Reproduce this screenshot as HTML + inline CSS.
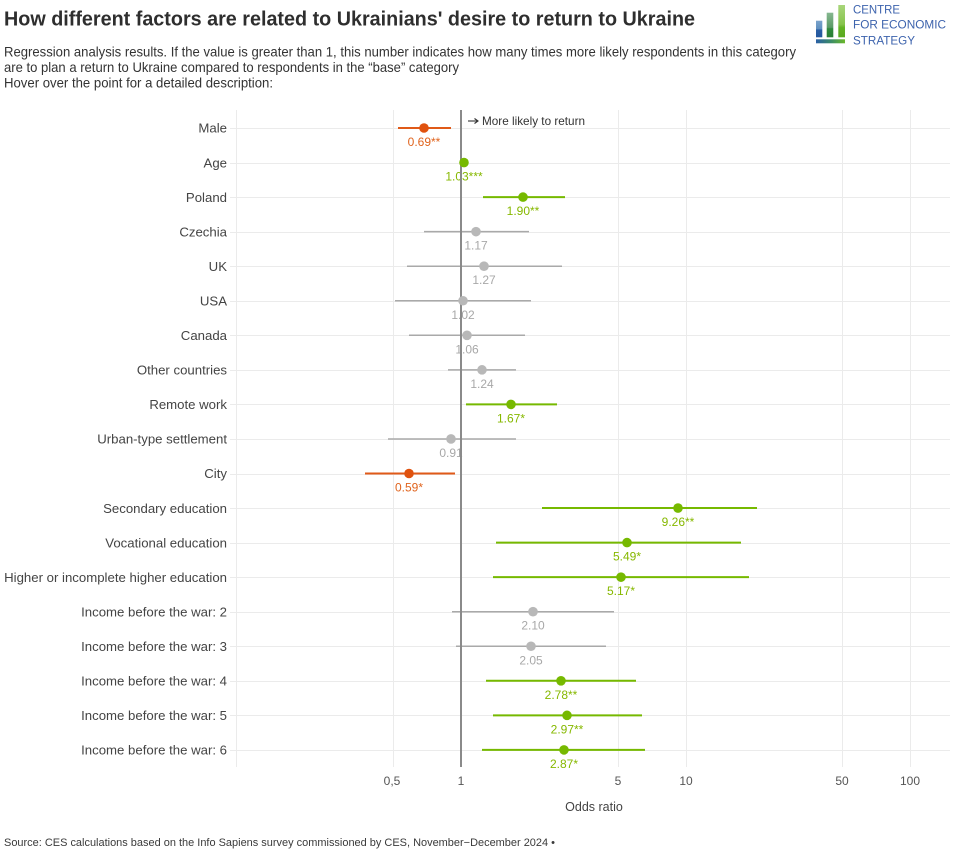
<!DOCTYPE html>
<html><head><meta charset="utf-8"><style>
html,body{margin:0;padding:0;background:#fff;}
svg{display:block;font-family:"Liberation Sans",Arial,sans-serif;}
</style></head><body>
<svg width="965" height="855" viewBox="0 0 965 855" xmlns="http://www.w3.org/2000/svg">
<defs>
<linearGradient id="b1" x1="0" y1="0" x2="0" y2="1"><stop offset="0" stop-color="#7aa3cb"/><stop offset="0.5" stop-color="#5f8fbf"/><stop offset="0.55" stop-color="#2a5fa5"/><stop offset="1" stop-color="#24589e"/></linearGradient>
<linearGradient id="b2" x1="0" y1="0" x2="0" y2="1"><stop offset="0" stop-color="#86b890"/><stop offset="0.6" stop-color="#5a9a66"/><stop offset="0.65" stop-color="#2f8a3c"/><stop offset="1" stop-color="#2a7f36"/></linearGradient>
<linearGradient id="b3" x1="0" y1="0" x2="0" y2="1"><stop offset="0" stop-color="#a8d67a"/><stop offset="0.6" stop-color="#86c34c"/><stop offset="0.7" stop-color="#62b224"/><stop offset="1" stop-color="#5aa820"/></linearGradient>
<linearGradient id="ul" x1="0" y1="0" x2="1" y2="0"><stop offset="0" stop-color="#2a5fa5"/><stop offset="0.5" stop-color="#3a8a6a"/><stop offset="1" stop-color="#6ab82a"/></linearGradient>
</defs>

<!-- Title -->
<text x="4" y="25.5" font-size="20" font-weight="bold" fill="#2e2e2e" textLength="691" lengthAdjust="spacingAndGlyphs">How different factors are related to Ukrainians' desire to return to Ukraine</text>
<text x="4" y="56.5" font-size="14" fill="#333" textLength="792" lengthAdjust="spacingAndGlyphs">Regression analysis results. If the value is greater than 1, this number indicates how many times more likely respondents in this category</text>
<text x="4" y="72" font-size="14" fill="#333" textLength="455" lengthAdjust="spacingAndGlyphs">are to plan a return to Ukraine compared to respondents in the “base” category</text>
<text x="4" y="87.5" font-size="14" fill="#333" textLength="269" lengthAdjust="spacingAndGlyphs">Hover over the point for a detailed description:</text>

<!-- Logo -->
<rect x="816" y="20.7" width="6.3" height="16.6" fill="url(#b1)"/>
<rect x="826.7" y="12.7" width="6.6" height="24.6" fill="url(#b2)"/>
<rect x="838.3" y="5" width="6.7" height="32.3" fill="url(#b3)"/>
<rect x="816" y="39.3" width="29" height="4" fill="url(#ul)"/>
<text x="853" y="13.3" font-size="11.5" fill="#3d63ad" textLength="47" lengthAdjust="spacingAndGlyphs">CENTRE</text>
<text x="853" y="28.7" font-size="11.5" fill="#3d63ad" textLength="93" lengthAdjust="spacingAndGlyphs">FOR ECONOMIC</text>
<text x="853" y="44.3" font-size="11.5" fill="#3d63ad" textLength="62" lengthAdjust="spacingAndGlyphs">STRATEGY</text>

<!-- Grid -->
<g stroke="#ebebeb" stroke-width="1">
<line x1="236.5" y1="110" x2="236.5" y2="767"/>
<line x1="393.5" y1="110" x2="393.5" y2="767"/>
<line x1="618.5" y1="110" x2="618.5" y2="767"/>
<line x1="686.5" y1="110" x2="686.5" y2="767"/>
<line x1="842.5" y1="110" x2="842.5" y2="767"/>
<line x1="910.5" y1="110" x2="910.5" y2="767"/>
</g>
<g stroke="#ebebeb" stroke-width="1" id="hg"></g>
<g id="plot"></g>

<!-- axis ticks -->
<g font-size="12" fill="#555" text-anchor="middle">
<text x="392" y="785">0,5</text>
<text x="461" y="785">1</text>
<text x="618" y="785">5</text>
<text x="686" y="785">10</text>
<text x="842" y="785">50</text>
<text x="910" y="785">100</text>
</g>
<text x="594" y="811" font-size="12.5" fill="#444" text-anchor="middle">Odds ratio</text>

<text x="4" y="846" font-size="11" fill="#3a3a3a" textLength="551" lengthAdjust="spacingAndGlyphs">Source: CES calculations based on the Info Sapiens survey commissioned by CES, November−December 2024 •</text>
</svg>
<script>
(function(){
var NS="http://www.w3.org/2000/svg";
var rows=[
["Male",424,398,451,"o","0.69**"],
["Age",464,461,467,"g","1.03***"],
["Poland",523,483,565,"g","1.90**"],
["Czechia",476,424,529,"n","1.17"],
["UK",484,407,562,"n","1.27"],
["USA",463,395,531,"n","1.02"],
["Canada",467,409,525,"n","1.06"],
["Other countries",482,448,516,"n","1.24"],
["Remote work",511,466,557,"g","1.67*"],
["Urban-type settlement",451,388,516,"n","0.91"],
["City",409,365,455,"o","0.59*"],
["Secondary education",678,542,757,"g","9.26**"],
["Vocational education",627,496,741,"g","5.49*"],
["Higher or incomplete higher education",621,493,749,"g","5.17*"],
["Income before the war: 2",533,452,614,"n","2.10"],
["Income before the war: 3",531,456,606,"n","2.05"],
["Income before the war: 4",561,486,636,"g","2.78**"],
["Income before the war: 5",567,493,642,"g","2.97**"],
["Income before the war: 6",564,482,645,"g","2.87*"]
];
var col={o:{l:"#e05a18",d:"#e0520e",t:"#e0641e",w:2},g:{l:"#76b900",d:"#76b900",t:"#86b800",w:2},n:{l:"#a9a9a9",d:"#b8b8b8",t:"#a8a8a8",w:1.5}};
var plot=document.getElementById("plot");
function el(t,a,p,txt){var e=document.createElementNS(NS,t);for(var k in a)e.setAttribute(k,a[k]);if(txt!==undefined)e.textContent=txt;(p||plot).appendChild(e);return e;}
var hg=document.getElementById("hg");
var lines=el("g",{}),labs=el("g",{}),vl=el("g",{}),dots=el("g",{});
rows.forEach(function(r,i){
 var y=128+34.55*i;
 var yy=Math.round(y)+0.5;
 el("line",{x1:230,y1:yy,x2:950,y2:yy,stroke:"#ebebeb","stroke-width":1},hg);
 el("text",{x:227,y:y+4.7,"font-size":13.2,fill:"#444","text-anchor":"end"},plot,r[0]);
 var c=col[r[4]];
 if(r[3]-r[2]>8) el("line",{x1:r[2],y1:y,x2:r[3],y2:y,stroke:c.l,"stroke-width":c.w},lines);
 el("text",{x:r[1],y:y+18,"font-size":12,fill:c.t,"text-anchor":"middle"},labs,r[5]);
 el("circle",{cx:r[1],cy:y,r:4.8,fill:c.d},dots);
});
el("line",{x1:461,y1:110,x2:461,y2:767,stroke:"#8a8a8a","stroke-width":2},vl);
el("line",{x1:468,y1:121,x2:477,y2:121,stroke:"#333","stroke-width":1.1},vl);
el("path",{d:"M474.5,118.5 L478,121 L474.5,123.5",fill:"none",stroke:"#333","stroke-width":1.1},vl);
el("text",{x:482,y:125,"font-size":12,fill:"#333",textLength:103,lengthAdjust:"spacingAndGlyphs"},vl,"More likely to return");
})();
</script>
</body></html>
